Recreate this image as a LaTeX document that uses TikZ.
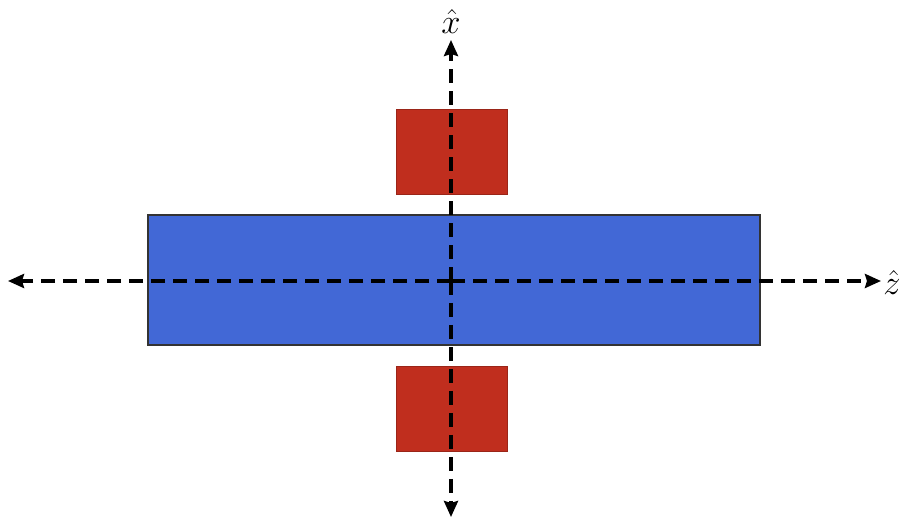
\documentclass[tikz,border=0pt]{standalone}
\usetikzlibrary{positioning,arrows.meta}
\definecolor{slabBlue}{RGB}{66,104,214}
\definecolor{padRed}{RGB}{192,46,30}
\tikzset{
  slab/.style={draw=black!80, line width=0.6pt, fill=slabBlue, minimum width=306pt,
    minimum height=65pt, inner sep=0pt},
  pad/.style={draw=padRed!80!black, line width=0.4pt, fill=padRed, minimum width=55.5pt,
    minimum height=42.5pt, inner sep=0pt},
  axis/.style={-{Stealth[length=8pt, width=7pt, inset=1pt]}, line width=1.7pt,
    dash pattern=on 7pt off 4pt},
  axislabel/.style={font=\LARGE, inner sep=0pt},
}
\begin{document}
\begin{tikzpicture}[x=0.5pt, y=-0.5pt]
  \useasboundingbox (0,0) rectangle (902,518);
  \node[slab] (slab) at (454,280) {};
  \node[pad] (top) at (451.5,151.5) {};
  \node[pad] (bottom) at (451.5,408.5) {};
  \coordinate (origin) at (451,281);
  \coordinate (xend) at (451,40);
  \coordinate (xneg) at (451,517);
  \coordinate (zend) at (881,281);
  \coordinate (zneg) at (8,281);
  \draw[axis] (origin) -- (xend);
  \draw[axis] (origin) -- (xneg);
  \draw[axis] (origin) -- (zend);
  \draw[axis] (origin) -- (zneg);
  \node[axislabel] (xlabel) at (451,22) {$\hat{x}$};
  \node[axislabel, anchor=west] (zlabel) at (883,283) {$\hat{z}$};
\end{tikzpicture}
\end{document}
